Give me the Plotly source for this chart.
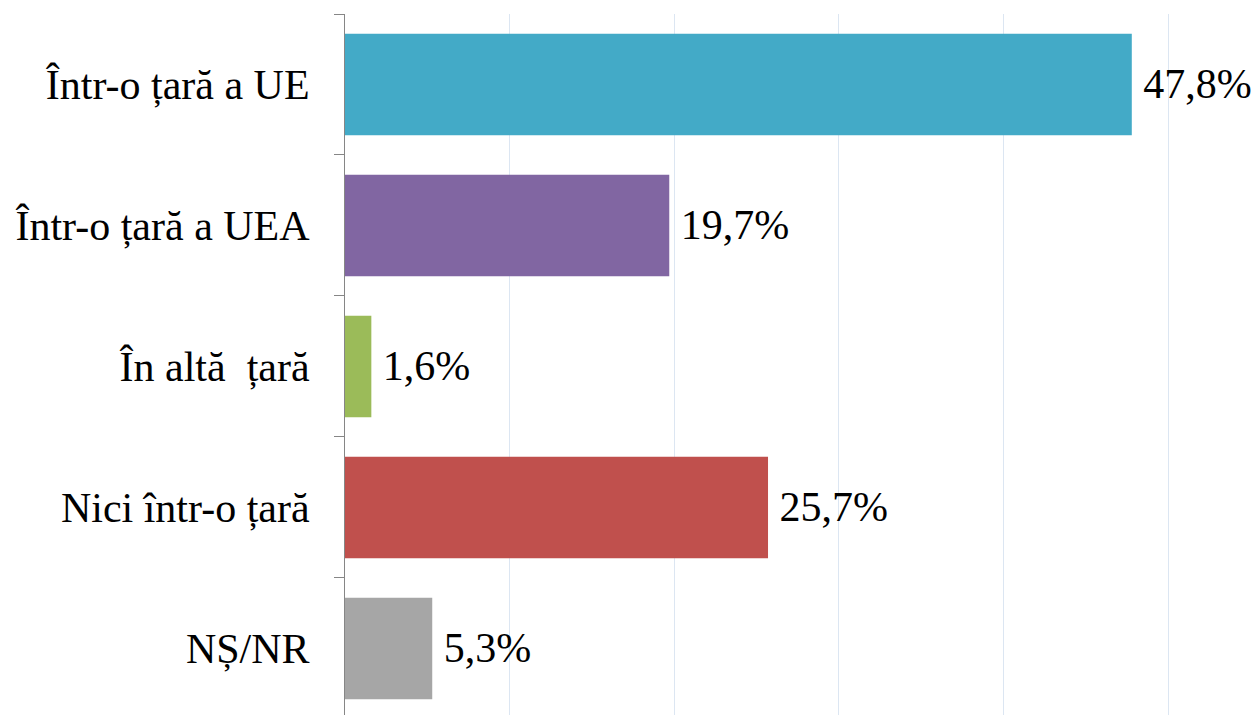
import plotly.graph_objects as go

categories = ["Într-o țară a UE", "Într-o țară a UEA", "În altă  țară", "Nici într-o țară", "NȘ/NR"]
values = [47.8, 19.7, 1.6, 25.7, 5.3]
colors = ["#43AAC7", "#8166A2", "#9BBB59", "#C0504D", "#A6A6A6"]
labels = ["\u2009" + f"{v:.1f}".replace(".", ",") + "%" for v in values]

font_family = "Liberation Serif"

fig = go.Figure(
    go.Bar(
        x=values,
        y=categories,
        orientation="h",
        marker=dict(color=colors, line=dict(width=0)),
        width=0.72,
        text=labels,
        textposition="outside",
        cliponaxis=False,
        textfont=dict(family=font_family, size=42, color="#000000"),
    )
)

fig.update_layout(
    width=1254,
    height=715,
    margin=dict(l=345, r=0, t=14, b=0, autoexpand=False),
    paper_bgcolor="white",
    plot_bgcolor="white",
    showlegend=False,
    font=dict(family=font_family, size=42, color="#000000"),
    xaxis=dict(
        range=[0, 909 / 16.46],
        dtick=10,
        tick0=0,
        showgrid=True,
        gridcolor="#DCE6F2",
        gridwidth=1,
        showticklabels=False,
        zeroline=False,
        showline=False,
        ticks="",
        automargin=False,
        fixedrange=True,
    ),
    yaxis=dict(
        categoryorder="array",
        categoryarray=categories,
        range=[4.472, -0.5],
        showline=True,
        linecolor="#868686",
        linewidth=1,
        ticks="outside",
        tickson="boundaries",
        ticklen=10,
        tickcolor="#868686",
        tickwidth=1,
        showgrid=False,
        ticklabelstandoff=26,
        automargin=False,
        tickfont=dict(family=font_family, size=42, color="#000000"),
        fixedrange=True,
    ),
)

fig.write_html(
    "out.html",
    config={"displayModeBar": False},
    post_script="document.body.style.margin='0';document.body.style.overflow='hidden';",
)
